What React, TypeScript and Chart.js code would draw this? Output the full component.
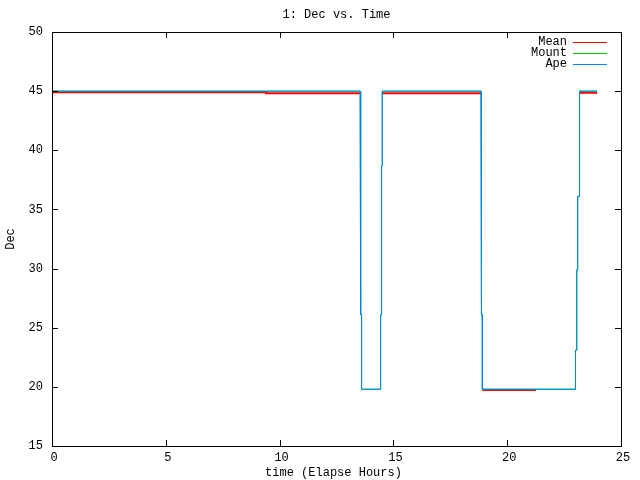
import React, { useEffect, useRef } from "react";
import { Chart, registerables } from "chart.js";

Chart.register(...registerables);

const TITLE = "1: Dec vs. Time";
const X_TITLE = "time (Elapse Hours)";
const Y_TITLE = "Dec";
const X_TICKS = [0, 5, 10, 15, 20, 25];
const Y_TICKS = [15, 20, 25, 30, 35, 40, 45, 50];

// Ape (blue)
const apeX = [0, 13.54, 13.54, 13.57, 13.57, 13.6, 13.6, 14.44, 14.44, 14.48, 14.48, 14.51, 14.51, 18.85, 18.85, 18.88, 18.88, 18.91, 18.91, 23.0, 23.0, 23.06, 23.06, 23.1, 23.1, 23.16, 23.16, 23.19, 23.19, 23.95];
const apeY = [45.0, 45.0, 38.7, 38.7, 26.1, 26.1, 19.8, 19.8, 26.1, 26.1, 38.7, 38.7, 45.0, 45.0, 38.7, 38.7, 26.1, 26.1, 19.8, 19.8, 23.1, 23.1, 29.9, 29.9, 36.1, 36.1, 42.05, 42.05, 45.0, 45.0];

// Mount (green) - nearly identical to Ape
const mountX = [0, 13.54, 13.54, 13.57, 13.57, 13.6, 13.6, 14.44, 14.44, 14.48, 14.48, 14.51, 14.51, 18.85, 18.85, 18.88, 18.88, 18.91, 18.91, 23.0, 23.0, 23.055, 23.055, 23.095, 23.095, 23.155, 23.155, 23.19, 23.19, 23.95];
const mountY = [45.0, 45.0, 38.7, 38.7, 26.1, 26.1, 19.8, 19.8, 26.1, 26.1, 38.7, 38.7, 45.0, 45.0, 38.7, 38.7, 26.1, 26.1, 19.8, 19.8, 23.1, 23.1, 29.9, 29.9, 36.1, 36.1, 42.05, 42.05, 45.0, 45.0];

// Mean (red), null = gap
const meanX = [0, 9.4, 9.4, 13.54, 13.6, 14.51, 18.85, 18.87, 18.91, 21.26, 21.3, 23.19, 23.95];
const meanY: (number | null)[] = [44.9, 44.9, 44.83, 44.83, null, 44.83, 44.83, null, 19.73, 19.73, null, 44.87, 44.87];

const FONT = "12px 'Liberation Mono', 'DejaVu Sans Mono', monospace";

function pts(xs: number[], ys: (number | null)[]) {
  return xs.map((x, i) => ({ x, y: ys[i] }));
}

const framePlugin = {
  id: "frame",
  afterDatasetsDraw(chart: any) {
    const ctx = chart.ctx as CanvasRenderingContext2D;
    const { left, right, top, bottom } = chart.chartArea;
    const xs = chart.scales.x;
    const ys = chart.scales.y;
    ctx.save();
    ctx.strokeStyle = "#000";
    ctx.lineWidth = 1;
    ctx.beginPath();
    const tl = 6;
    X_TICKS.forEach((v) => {
      const px = Math.round(xs.getPixelForValue(v)) + 0.5;
      ctx.moveTo(px, bottom);
      ctx.lineTo(px, bottom - tl);
      ctx.moveTo(px, top);
      ctx.lineTo(px, top + tl);
    });
    Y_TICKS.forEach((v) => {
      const py = Math.round(ys.getPixelForValue(v)) + 0.5;
      ctx.moveTo(left, py);
      ctx.lineTo(left + tl, py);
      ctx.moveTo(right, py);
      ctx.lineTo(right - tl, py);
    });
    ctx.stroke();
    ctx.strokeRect(Math.round(left) + 0.5, Math.round(top) + 0.5, Math.round(right - left), Math.round(bottom - top));

    ctx.fillStyle = "#000";
    ctx.font = FONT;
    ctx.textBaseline = "middle";
    ctx.textAlign = "right";
    Y_TICKS.forEach((v) => {
      ctx.fillText(String(v), left - 9, ys.getPixelForValue(v));
    });
    ctx.textAlign = "center";
    X_TICKS.forEach((v) => {
      ctx.fillText(String(v), xs.getPixelForValue(v) + 2, bottom + 12);
    });
    ctx.fillText(X_TITLE, (left + right) / 2 - 3, 473);
    ctx.fillText(TITLE, (left + right) / 2, 15);
    ctx.save();
    ctx.translate(11, (top + bottom) / 2);
    ctx.rotate(-Math.PI / 2);
    ctx.fillText(Y_TITLE, 0, 0);
    ctx.restore();

    // legend
    const items = [
      { label: "Mean", color: "#ff0000" },
      { label: "Mount", color: "#00c000" },
      { label: "Ape", color: "#0080ff" },
    ];
    items.forEach((it, i) => {
      const y = 42 + i * 11;
      ctx.textAlign = "right";
      ctx.fillStyle = "#000";
      ctx.fillText(it.label, 567, y);
      ctx.strokeStyle = it.color;
      ctx.lineWidth = 1;
      ctx.beginPath();
      ctx.moveTo(573, Math.round(y) + 0.5);
      ctx.lineTo(607, Math.round(y) + 0.5);
      ctx.stroke();
    });
    ctx.restore();
  },
};

export default function App() {
  const ref = useRef<HTMLCanvasElement>(null);
  useEffect(() => {
    document.body.style.margin = "0";
    const chart = new Chart(ref.current!, {
      type: "line",
      data: {
        datasets: [
          {
            label: "Mean",
            data: pts(meanX, meanY),
            borderColor: "#ff0000",
            borderWidth: 2,
            pointRadius: 0,
            spanGaps: false,
            order: 3,
          },
          {
            label: "Mount",
            data: pts(mountX, mountY),
            borderColor: "#00c000",
            borderWidth: 1,
            pointRadius: 0,
            order: 2,
          },
          {
            label: "Ape",
            data: pts(apeX, apeY),
            borderColor: "#0080ff",
            borderWidth: 1,
            pointRadius: 0,
            order: 1,
          },
        ],
      },
      options: {
        responsive: false,
        animation: false,
        layout: { padding: { left: 52, right: 19, top: 32, bottom: 34 } },
        plugins: { legend: { display: false }, tooltip: { enabled: false }, title: { display: false } },
        elements: { line: { tension: 0 } },
        scales: {
          x: { type: "linear", min: 0, max: 25, display: false },
          y: { type: "linear", min: 15, max: 50, display: false },
        },
      },
      plugins: [framePlugin],
    });
    return () => chart.destroy();
  }, []);
  return <canvas ref={ref} width={640} height={480} style={{ display: "block" }} />;
}
